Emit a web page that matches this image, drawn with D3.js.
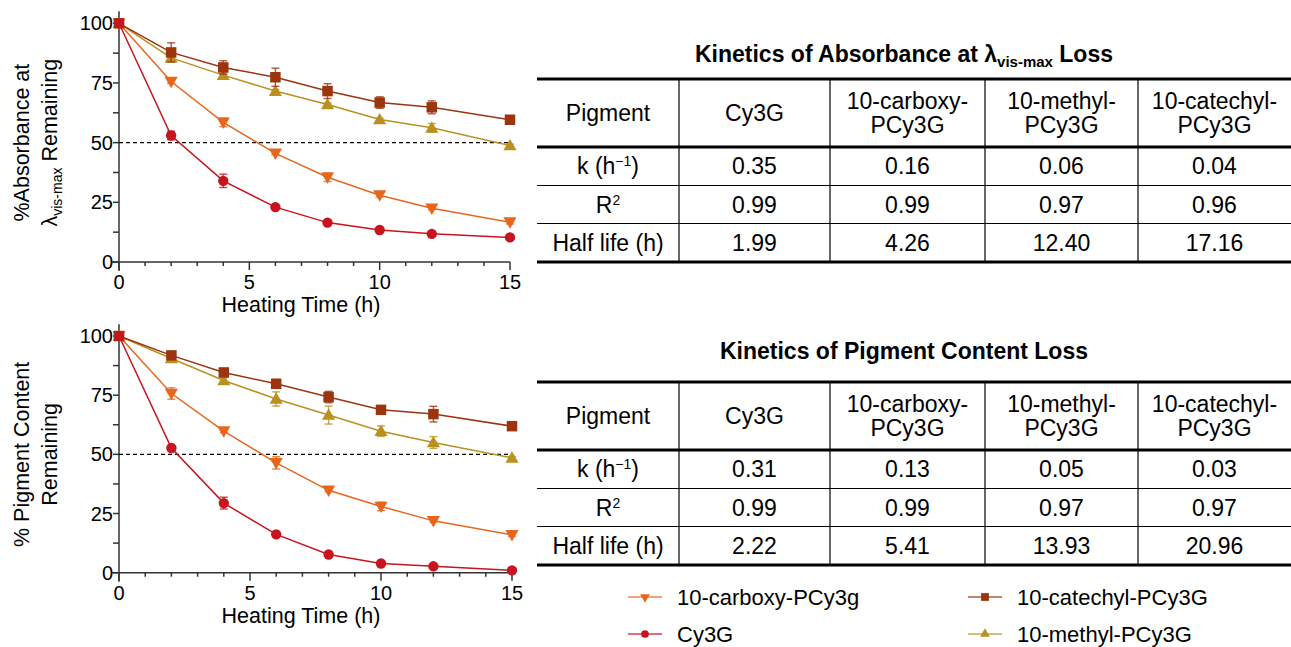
<!DOCTYPE html>
<html>
<head>
<meta charset="utf-8">
<script src="https://cdn.jsdelivr.net/npm/d3@7"></script>
<style>
  body { margin: 0; background: #fff; }
  svg { font-family: "Liberation Sans", Arial, sans-serif; }
</style>
</head>
<body>
<div id="chart"></div>
<script>
// heating time points (h)
const times = [0, 2, 4, 6, 8, 10, 12, 15];

// % absorbance at lambda vis-max remaining
const cy3gAbs = [100, 53, 34, 23, 16.5, 13.4, 11.8, 10.3];
const cy3gAbsErr = [0, 1.8, 2.8, 0.6, 0.6, 0.6, 0.6, 0.6];
const carboxyAbs = [100, 75.6, 58.5, 45.5, 35.5, 28, 22.5, 16.7];
const carboxyAbsErr = [0, 0.8, 1.8, 0.6, 1.8, 0.8, 0.6, 0.8];
const catechylAbs = [100, 87.8, 81.5, 77.4, 71.6, 66.8, 64.8, 59.6];
const catechylAbsErr = [0, 4, 2.8, 3.8, 3.1, 2.4, 2.7, 1.3];
const methylAbs = [100, 85.5, 78.3, 71.6, 66, 59.7, 56.2, 48.8];
const methylAbsErr = [0, 1, 0.8, 0.6, 0.6, 0.6, 1.8, 0.6];

// % pigment content remaining
const cy3gCont = [100, 52.7, 29.4, 16.2, 7.7, 3.9, 2.7, 1.0];
const cy3gContErr = [0, 0.6, 2.5, 0.6, 0.6, 0.6, 0.6, 0.5];
const carboxyCont = [100, 75.7, 59.8, 46.4, 34.8, 28.0, 21.9, 16.0];
const carboxyContErr = [0, 2.4, 0.6, 2.6, 0.6, 1.8, 0.6, 0.6];
const catechylCont = [100, 91.8, 84.6, 79.8, 74.2, 68.8, 67.0, 61.9];
const catechylContErr = [0, 1, 1, 1.8, 2.4, 1.4, 3.3, 0.8];
const methylCont = [100, 90.5, 81.2, 73.4, 66.6, 59.8, 55.0, 48.5];
const methylContErr = [0, 0.8, 1.3, 3.0, 3.8, 2.2, 2.5, 0.6];

const yTicks = [0, 25, 50, 75, 100];
const xTicks = [0, 5, 10, 15];

// table contents
const tableCols = ["Cy3G", "10-carboxy-|PCy3G", "10-methyl-|PCy3G", "10-catechyl-|PCy3G"];
const kAbs = ["0.35", "0.16", "0.06", "0.04"];
const r2Abs = ["0.99", "0.99", "0.97", "0.96"];
const halfAbs = ["1.99", "4.26", "12.40", "17.16"];
const kCont = ["0.31", "0.13", "0.05", "0.03"];
const r2Cont = ["0.99", "0.99", "0.97", "0.97"];
const halfCont = ["2.22", "5.41", "13.93", "20.96"];

// legend
const legendNames = ["10-carboxy-PCy3g", "Cy3G", "10-catechyl-PCy3G", "10-methyl-PCy3G"];

const colors = {
  carboxy: "#E8661C",
  cy3g: "#C8141E",
  catechyl: "#9C3410",
  methyl: "#BA9120"
};
const symbols = {
  carboxy: {type: d3.symbolTriangle, size: 75, rot: 180},
  cy3g: {type: d3.symbolCircle, size: 85, rot: 0},
  catechyl: {type: d3.symbolSquare, size: 110, rot: 0},
  methyl: {type: d3.symbolTriangle, size: 75, rot: 0}
};

const W = 1291, H = 647;
const svg = d3.select("#chart").append("svg")
  .attr("width", W).attr("height", H);

function drawPlot(opts) {
  let x = d3.scaleLinear().domain([0, 15]).range([119, opts.xEnd]);
  let y = d3.scaleLinear().domain([0, 100]).range([opts.y0, opts.y100]);
  let g = svg.append("g");

  // axes
  let axisColor = "#333";
  g.append("line")
    .attr("x1", x(0)).attr("x2", x(0))
    .attr("y1", y(0) + 9).attr("y2", y(105))
    .attr("stroke", axisColor).attr("stroke-width", 1.5);
  g.append("line")
    .attr("x1", x(0) - 8).attr("x2", x(15))
    .attr("y1", y(0)).attr("y2", y(0))
    .attr("stroke", axisColor).attr("stroke-width", 1.5);

  // y ticks (major + minor)
  d3.range(0, 101, 12.5).forEach(v => {
    g.append("line")
      .attr("x1", x(0) - 6).attr("x2", x(0))
      .attr("y1", y(v)).attr("y2", y(v))
      .attr("stroke", axisColor).attr("stroke-width", 1.5);
  });
  g.selectAll(".ytl").data(yTicks).join("text")
    .attr("x", x(0) - 6).attr("y", d => y(d))
    .attr("dy", "0.35em")
    .attr("text-anchor", "end")
    .attr("font-size", 20)
    .text(d => d);

  // x ticks
  d3.range(0, 16).forEach(v => {
    let major = v % 5 === 0;
    g.append("line")
      .attr("x1", x(v)).attr("x2", x(v))
      .attr("y1", y(0)).attr("y2", y(0) + (major ? 8 : 4))
      .attr("stroke", axisColor).attr("stroke-width", 1.5);
  });
  g.selectAll(".xtl").data(xTicks).join("text")
    .attr("x", d => x(d)).attr("y", y(0) + 27)
    .attr("text-anchor", "middle")
    .attr("font-size", 20)
    .text(d => d);

  g.append("text")
    .attr("x", 301).attr("y", y(0) + 50)
    .attr("text-anchor", "middle")
    .attr("font-size", 21.5)
    .text("Heating Time (h)");

  // y label
  let mid = (y(0) + y(100)) / 2;
  opts.ylabel(g, mid);

  // 50% reference
  g.append("line")
    .attr("x1", x(0)).attr("x2", x(15))
    .attr("y1", y(50)).attr("y2", y(50))
    .attr("stroke", "#000").attr("stroke-width", 1.2)
    .attr("stroke-dasharray", "4,3");

  let line = d3.line().x(d => x(d.t)).y(d => y(d.v));

  opts.series.forEach(s => {
    let pts = times.map((t, i) => ({t: t, v: s.vals[i], e: s.errs[i]}));
    let c = colors[s.key];
    let sg = g.append("g");
    sg.append("path").datum(pts)
      .attr("d", line)
      .attr("fill", "none")
      .attr("stroke", c).attr("stroke-width", 1.5);
    // error bars
    pts.filter(d => d.e > 0).forEach(d => {
      sg.append("line")
        .attr("x1", x(d.t)).attr("x2", x(d.t))
        .attr("y1", y(d.v - d.e)).attr("y2", y(d.v + d.e))
        .attr("stroke", c).attr("stroke-width", 1.4).attr("opacity", 0.8);
      [d.v - d.e, d.v + d.e].forEach(v => {
        sg.append("line")
          .attr("x1", x(d.t) - 4).attr("x2", x(d.t) + 4)
          .attr("y1", y(v)).attr("y2", y(v))
          .attr("stroke", c).attr("stroke-width", 1.4).attr("opacity", 0.8);
      });
    });
    let sym = symbols[s.key];
    sg.selectAll("path.m").data(pts).join("path")
      .attr("class", "m")
      .attr("d", d3.symbol().type(sym.type).size(sym.size))
      .attr("transform", d => `translate(${x(d.t)},${y(d.v) + (sym.type === d3.symbolTriangle ? (sym.rot ? -1 : 1) : 0)}) rotate(${sym.rot})`)
      .attr("fill", c);
  });
}

drawPlot({
  xEnd: 510, y0: 262, y100: 23.3,
  series: [
    {key: "methyl", vals: methylAbs, errs: methylAbsErr},
    {key: "carboxy", vals: carboxyAbs, errs: carboxyAbsErr},
    {key: "catechyl", vals: catechylAbs, errs: catechylAbsErr},
    {key: "cy3g", vals: cy3gAbs, errs: cy3gAbsErr}
  ],
  ylabel: (g, mid) => {
    g.append("text")
      .attr("transform", `translate(29,${mid}) rotate(-90)`)
      .attr("text-anchor", "middle")
      .attr("font-size", 21.5)
      .text("%Absorbance at");
    let t = g.append("text")
      .attr("transform", `translate(57,${mid}) rotate(-90)`)
      .attr("text-anchor", "middle")
      .attr("font-size", 21.5);
    t.append("tspan").text("λ");
    t.append("tspan").attr("font-size", 14).attr("dy", 5).text("vis-max");
    t.append("tspan").attr("dy", -5).text(" Remaining");
  }
});

drawPlot({
  xEnd: 512, y0: 572.7, y100: 336,
  series: [
    {key: "methyl", vals: methylCont, errs: methylContErr},
    {key: "carboxy", vals: carboxyCont, errs: carboxyContErr},
    {key: "catechyl", vals: catechylCont, errs: catechylContErr},
    {key: "cy3g", vals: cy3gCont, errs: cy3gContErr}
  ],
  ylabel: (g, mid) => {
    g.append("text")
      .attr("transform", `translate(29,${mid}) rotate(-90)`)
      .attr("text-anchor", "middle")
      .attr("font-size", 21.5)
      .text("% Pigment Content");
    g.append("text")
      .attr("transform", `translate(57,${mid}) rotate(-90)`)
      .attr("text-anchor", "middle")
      .attr("font-size", 21.5)
      .text("Remaining");
  }
});

// tables
const colEdges = [537, 679, 830, 985, 1138, 1291];

function drawTable(opts) {
  let g = svg.append("g");
  let top = opts.top;
  let hdrB = top + 68, r1 = hdrB + 38.5, r2 = r1 + 38, bot = r2 + 38.5;
  let cx = i => (colEdges[i] + colEdges[i + 1]) / 2;

  let title = g.append("text")
    .attr("x", 904).attr("y", opts.titleY)
    .attr("text-anchor", "middle")
    .attr("font-size", 23).attr("font-weight", "bold");
  opts.title(title);

  // horizontal rules
  [[top, 3], [hdrB, 3], [r1, 1.2], [r2, 1.2], [bot, 3]].forEach(r => {
    g.append("line")
      .attr("x1", colEdges[0]).attr("x2", W)
      .attr("y1", r[0]).attr("y2", r[0])
      .attr("stroke", "#000").attr("stroke-width", r[1]);
  });
  colEdges.slice(1, 5).forEach(xe => {
    g.append("line")
      .attr("x1", xe).attr("x2", xe)
      .attr("y1", top).attr("y2", bot)
      .attr("stroke", "#000").attr("stroke-width", 1.2);
  });

  let fs = 23;
  // header
  g.append("text").attr("x", cx(0)).attr("y", (top + hdrB) / 2)
    .attr("dy", "0.35em").attr("text-anchor", "middle").attr("font-size", fs)
    .text("Pigment");
  tableCols.forEach((c, i) => {
    let parts = c.split("|");
    if (parts.length === 1) {
      g.append("text").attr("x", cx(i + 1)).attr("y", (top + hdrB) / 2)
        .attr("dy", "0.35em").attr("text-anchor", "middle").attr("font-size", fs)
        .text(parts[0]);
    } else {
      parts.forEach((p, j) => {
        g.append("text").attr("x", cx(i + 1)).attr("y", (top + hdrB) / 2 + (j === 0 ? -12 : 12))
          .attr("dy", "0.35em").attr("text-anchor", "middle").attr("font-size", fs)
          .text(p);
      });
    }
  });

  let rowMid = [(hdrB + r1) / 2, (r1 + r2) / 2, (r2 + bot) / 2];
  // row labels
  let k = g.append("text").attr("x", cx(0)).attr("y", rowMid[0])
    .attr("dy", "0.35em").attr("text-anchor", "middle").attr("font-size", fs);
  k.append("tspan").text("k (h");
  k.append("tspan").attr("font-size", 14).attr("dy", -8).text("−1");
  k.append("tspan").attr("dy", 8).text(")");
  let rr = g.append("text").attr("x", cx(0)).attr("y", rowMid[1])
    .attr("dy", "0.35em").attr("text-anchor", "middle").attr("font-size", fs);
  rr.append("tspan").text("R");
  rr.append("tspan").attr("font-size", 14).attr("dy", -8).text("2");
  g.append("text").attr("x", cx(0)).attr("y", rowMid[2])
    .attr("dy", "0.35em").attr("text-anchor", "middle").attr("font-size", fs)
    .text("Half life (h)");

  [opts.k, opts.r2, opts.half].forEach((row, ri) => {
    row.forEach((v, i) => {
      g.append("text").attr("x", cx(i + 1)).attr("y", rowMid[ri])
        .attr("dy", "0.35em").attr("text-anchor", "middle").attr("font-size", fs)
        .text(v);
    });
  });
}

drawTable({
  top: 79, titleY: 62, k: kAbs, r2: r2Abs, half: halfAbs,
  title: t => {
    t.append("tspan").text("Kinetics of Absorbance at λ");
    t.append("tspan").attr("font-size", 15).attr("dy", 5).text("vis-max");
    t.append("tspan").attr("dy", -5).text(" Loss");
  }
});
drawTable({
  top: 382, titleY: 359, k: kCont, r2: r2Cont, half: halfCont,
  title: t => t.text("Kinetics of Pigment Content Loss")
});

// legend
const legendKeys = ["carboxy", "cy3g", "catechyl", "methyl"];
const legendPos = [[628, 597], [628, 634], [968, 597], [968, 634]];
legendNames.forEach((name, i) => {
  let key = legendKeys[i];
  let [lx, ly] = legendPos[i];
  let c = colors[key];
  let sym = symbols[key];
  svg.append("line")
    .attr("x1", lx).attr("x2", lx + 34)
    .attr("y1", ly).attr("y2", ly)
    .attr("stroke", c).attr("stroke-width", 2).attr("opacity", 0.6);
  svg.append("path")
    .attr("d", d3.symbol().type(sym.type).size(sym.size * 0.55))
    .attr("transform", `translate(${lx + 17},${ly}) rotate(${sym.rot})`)
    .attr("fill", c);
  svg.append("text")
    .attr("x", lx + 49).attr("y", ly)
    .attr("dy", "0.35em")
    .attr("font-size", 22)
    .text(name);
});
</script>
</body>
</html>
